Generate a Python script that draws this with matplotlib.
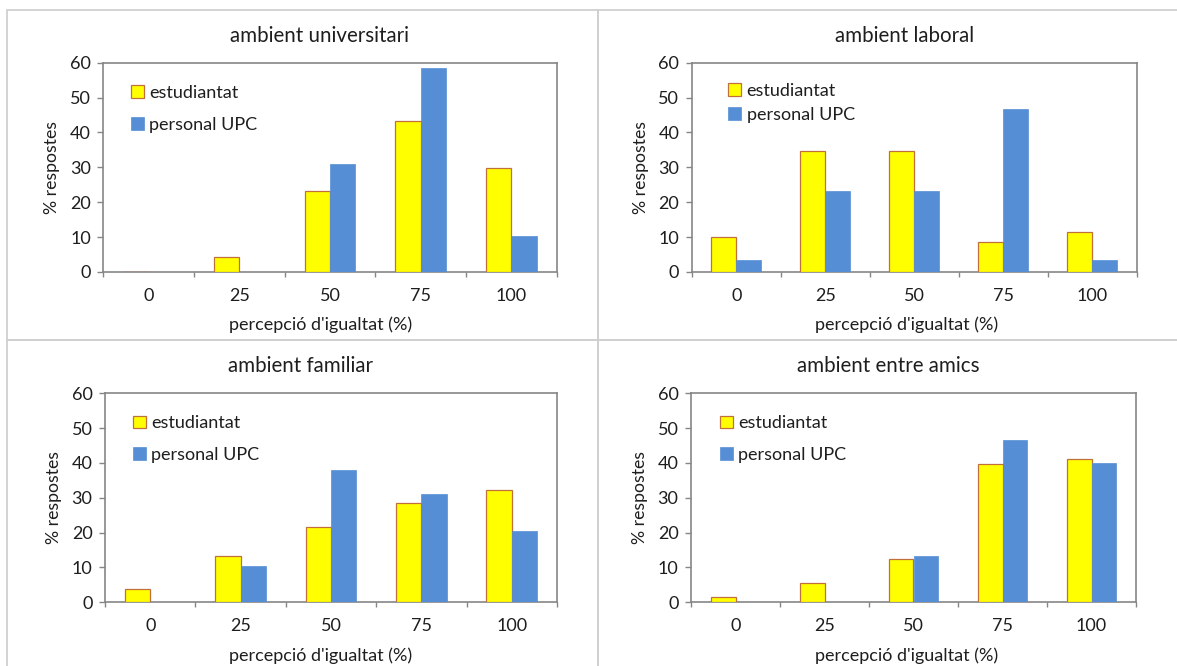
import numpy as np
import matplotlib
matplotlib.use('Agg')
import matplotlib.pyplot as plt
import matplotlib.patches as patches
from matplotlib.ticker import FixedLocator

plt.rcParams['font.family'] = ['Lato', 'DejaVu Sans']

# Dades
categories = ['0', '25', '50', '75', '100']
titols = ['ambient universitari', 'ambient laboral', 'ambient familiar', 'ambient entre amics']

estudiantat_univ = [0, 4.2, 23.1, 43.3, 29.8]
personal_univ = [0, 0, 31.0, 58.6, 10.3]

estudiantat_lab = [10.0, 34.6, 34.6, 8.6, 11.6]
personal_lab = [3.3, 23.3, 23.3, 46.7, 3.3]

estudiantat_fam = [3.9, 13.4, 21.5, 28.4, 32.3]
personal_fam = [0, 10.3, 37.9, 31.0, 20.5]

estudiantat_amics = [1.4, 5.4, 12.3, 39.7, 41.0]
personal_amics = [0, 0, 13.2, 46.6, 39.9]

groc = '#FFFF00'
vora_groc = '#C0703A'
blau = '#558ED5'
gris = '#868686'
text_col = '#1e1e1e'

W, H = 1177, 666
fig = plt.figure(figsize=(W / 100, H / 100), dpi=100)

# Marcs dels panells (en píxels)
for (x0, y0, x1, y1) in [(7, 10, 598, 340), (598, 10, 1190, 340),
                         (7, 340, 598, 680), (598, 340, 1190, 680)]:
    fig.add_artist(patches.Rectangle((x0 / W, 1 - y1 / H), (x1 - x0) / W, (y1 - y0) / H,
                                     transform=fig.transFigure, fill=False,
                                     edgecolor='#d0d0d0', linewidth=1.3))

# Posicions dels eixos (esquerra, dalt, dreta, baix en píxels)
eixos = [(103.3, 62.7, 556.7, 272), (691.7, 62.7, 1136.7, 272),
         (105, 393.3, 557, 602.3), (691, 393.3, 1136, 602.3)]
titol_x = [320, 905, 300, 888]
xlabel_x = [321, 907, 321, 907]
# llegenda: marge esquerre (px), centre primera fila (px), separació (px)
lleg = [(27.5, 31, 34), (36.6, 29, 26.6), (28, 31, 34), (29, 31, 34)]

dades = [(estudiantat_univ, personal_univ), (estudiantat_lab, personal_lab),
         (estudiantat_fam, personal_fam), (estudiantat_amics, personal_amics)]

x = np.arange(len(categories))
w = 0.28
fs = 13

for i, (l, t, r, b) in enumerate(eixos):
    ax = fig.add_axes([l / W, 1 - b / H, (r - l) / W, (b - t) / H])
    est, pers = dades[i]
    ax.bar(x - w / 2, est, w, color=groc, edgecolor=vora_groc, linewidth=0.9,
           label='estudiantat', zorder=3)
    ax.bar(x + w / 2, pers, w, color=blau, edgecolor=blau, linewidth=0.5,
           label='personal UPC', zorder=3)

    ax.set_xlim(-0.5, 4.5)
    ax.set_ylim(0, 60)
    ax.set_yticks(range(0, 61, 10))
    ax.set_xticks(x)
    ax.set_xticklabels(categories)
    ax.xaxis.set_minor_locator(FixedLocator(np.arange(-0.5, 5, 1)))
    ax.tick_params(axis='x', which='major', length=0, pad=11.5, labelsize=fs, colors=text_col)
    ax.tick_params(axis='x', which='minor', length=3.5, width=1, color=gris, direction='out')
    ax.tick_params(axis='y', length=4, width=1, color=gris, pad=5, labelsize=fs,
                   labelcolor=text_col)
    for s in ax.spines.values():
        s.set_color(gris)
        s.set_linewidth(1.2)

    ax_w = r - l
    ax_h = b - t
    ax.set_ylabel('% respostes', fontsize=fs - 0.3, color=text_col)
    ax.yaxis.set_label_coords(-51 / ax_w, 0.5)
    ax.yaxis.label.set_va('center')
    ax.set_xlabel("percepció d'igualtat (%)", fontsize=fs, color=text_col)
    ax.xaxis.set_label_coords((xlabel_x[i] - l) / ax_w, -53 / ax_h)
    ax.xaxis.label.set_va('center')

    ax.text((titol_x[i] - l) / ax_w, 1 + 27 / ax_h, titols[i], transform=ax.transAxes,
            ha='center', va='center', fontsize=14.8, color=text_col)

    mx, my, sp = lleg[i]
    row = fs * 100 / 72
    ax.legend(loc='upper left', bbox_to_anchor=(mx / ax_w, 1 - (my - row / 2) / ax_h),
              frameon=False, fontsize=fs, handlelength=0.72, handleheight=0.72,
              handletextpad=0.3, borderpad=0, borderaxespad=0,
              labelspacing=(sp - row) / row, labelcolor=text_col)

fig.savefig('out.png', dpi=100)
